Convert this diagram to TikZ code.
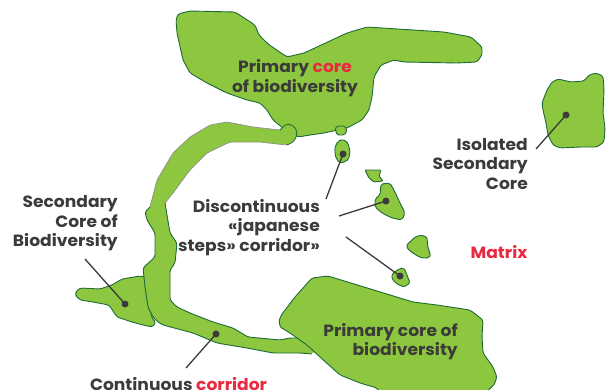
\documentclass[tikz,border=0pt]{standalone}
\usepackage{fontspec}
\setmainfont{Poppins}[FakeStretch=1.05]
\definecolor{land}{HTML}{8DC63F}
\definecolor{edge}{HTML}{1F6B35}
\definecolor{grayedge}{HTML}{8F8F8F}
\definecolor{txt}{HTML}{3B3B3A}
\definecolor{hot}{HTML}{E8293F}
\begin{document}
\begin{tikzpicture}[x=1pt,y=-1pt,
  landshape/.style={fill=land,draw=edge,line width=0.9pt,rounded corners=2.5pt,line join=round},
  isle/.style={fill=land,draw=edge,line width=0.9pt,line join=round},
  lbl/.style={font=\fontsize{16.3}{19.5}\selectfont\bfseries,text=txt,inner sep=0pt},
  dot/.style={circle,fill=txt,inner sep=0pt,minimum size=7pt},
  leader/.style={draw=txt,line width=1.3pt}]
\useasboundingbox (0,0) rectangle (608,389);
\clip (0,0) rectangle (608,389);

% secondary core (left)
\path[landshape] (77,290) -- (81,288) -- (100,289) -- (112,285) -- (122,279) -- (140,276) -- (146,277) -- (148,300) -- (152,318) -- (156,323) -- (152,327) -- (143,325) -- (132,322) -- (117,317) -- (109,305) -- (93,302) -- (80,300) -- (75,295) -- cycle;

% top primary core
\path[landshape] (178,14) -- (190,11) -- (235,12) -- (255,25) -- (259,35) -- (268,44) -- (287,57) -- (304,53) -- (317,47) -- (347,33) -- (367,27) -- (444,32) -- (471,37) -- (482,47) -- (482,55) -- (477,62) -- (457,63) -- (404,62) -- (394,60) -- (381,65) -- (374,77) -- (372,97) -- (369,110) -- (362,120) -- (347,128) -- (324,133) -- (310,135) -- (298,137) -- (284,129) -- (273,120) -- (267,110) -- (260,103) -- (247,100) -- (227,93) -- (207,83) -- (190,73) -- (183,60) -- (177,33) -- (176,20) -- cycle;

% continuous corridor
\path[fill=land,rounded corners=2.5pt] (280,130) -- (253,127) -- (227,122) -- (210,125) -- (190,137) -- (173,153) -- (157,180) -- (150,207) -- (145,212) -- (147,220) -- (155,233) -- (155,257) -- (143,268) -- (145,287) -- (148,307) -- (153,317) -- (158,322) -- (163,325) -- (193,333) -- (217,343) -- (247,348) -- (273,353) -- (300,353) -- (312,354) -- (316,350) -- (300,338) -- (290,338) -- (280,340) -- (248,337) -- (233,328) -- (213,322) -- (190,313) -- (177,307) -- (170,300) -- (170,270) -- (175,263) -- (177,243) -- (170,233) -- (165,203) -- (173,193) -- (190,170) -- (207,153) -- (230,142) -- (260,142) -- (286,145) -- (290,144) -- (295,140) -- (297,134) -- (296,129) -- (292,125) -- (287,124) -- (283,127) -- cycle;
\draw[grayedge,line width=0.7pt,rounded corners=2.5pt] (280,130) -- (253,127) -- (227,122) -- (210,125) -- (190,137) -- (173,153) -- (157,180) -- (150,207);
\draw[grayedge,line width=0.7pt,rounded corners=2.5pt] (165,203) -- (173,193) -- (190,170) -- (207,153) -- (230,142) -- (260,142) -- (286,145);
\draw[edge,line width=0.9pt,rounded corners=2.5pt,line join=round] (150,207) -- (145,212) -- (147,220) -- (155,233) -- (155,257) -- (143,268) -- (145,287) -- (148,307) -- (153,317) -- (158,322) -- (163,325) -- (193,333) -- (217,343) -- (247,348) -- (273,353) -- (300,353) -- (312,354);
\draw[edge,line width=0.9pt,rounded corners=2.5pt,line join=round] (300,338) -- (290,338) -- (280,340) -- (248,337) -- (233,328) -- (213,322) -- (190,313) -- (177,307) -- (170,300) -- (170,270) -- (175,263) -- (177,243) -- (170,233) -- (165,203);
\draw[edge,line width=0.8pt,rounded corners=1.5pt,line join=round] (286,145) -- (290,144) -- (295,140) -- (297,134) -- (296,129) -- (292,125) -- (287,124) -- (283,127) -- (280,130);

% bottom primary core
\path[landshape] (279,320) -- (282,314) -- (295,297) -- (312,278) -- (328,276) -- (413,302) -- (437,305) -- (470,310) -- (483,320) -- (482,337) -- (483,353) -- (493,367) -- (497,377) -- (494,385) -- (485,393) -- (380,393) -- (377,388) -- (360,383) -- (340,375) -- (320,357) -- (307,345) -- (290,333) -- (280,327) -- cycle;

% isolated secondary core
\path[landshape] (542,103) -- (547,90) -- (552,82) -- (558,79) -- (571,82) -- (584,81) -- (589,75) -- (596,73) -- (603,76) -- (604,90) -- (603,113) -- (605,128) -- (604,142) -- (597,147) -- (580,147) -- (560,148) -- (553,145) -- (548,135) -- (546,123) -- (543,110) -- cycle;

% japanese steps islands
\path[isle,rounded corners=1.5pt] (335,128) -- (338,126) -- (345,126) -- (347,131) -- (344,135) -- (337,135) -- cycle;
\path[isle] plot[smooth cycle,tension=0.8] coordinates {(337,143) (344,140) (349,147) (349,157) (344,162) (338,161) (335,152)};
\path[isle,rounded corners=1pt] (365,170) -- (381,170) -- (379,176) -- (383,181) -- (374,182) -- (369,178) -- cycle;
\path[isle,rounded corners=2pt] (381,184) -- (390,183) -- (395,192) -- (400,203) -- (405,213) -- (402,220) -- (392,218) -- (382,213) -- (375,207) -- (375,199) -- (380,195) -- cycle;
\path[isle] plot[smooth cycle,tension=0.7] coordinates {(407,247) (412,240) (418,236) (426,237) (428,247) (430,256) (424,258) (416,255)};
\path[isle,rounded corners=1.5pt] (392,274) -- (399,269) -- (404,268) -- (407,275) -- (410,283) -- (404,287) -- (397,284) -- (392,279) -- cycle;

% labels
\node[lbl,align=center] (topcore) at (295,78) {Primary \textcolor{hot}{core}\\of biodiversity};
\node[lbl,align=right,anchor=east] (isolated) at (528,164) {Isolated\\Secondary\\Core};
\node[lbl,align=right,anchor=east] (secondary) at (118,223.5) {Secondary\\Core of\\Biodiversity};
\node[lbl,align=right,anchor=east] (steps) at (320,227.5) {Discontinuous\\«japanese\\steps» corridor»};
\node[lbl,text=hot] (matrix) at (499,252.5) {Matrix};
\node[lbl,align=right,anchor=east] (botcore) at (458,341.5) {Primary core of\\biodiversity};
\node[lbl,anchor=base] (corridor) at (178.5,390) {Continuous \textcolor{hot}{corridor}};

% dots and leaders
\node[dot] (d1) at (566,115) {};
\coordinate (e1) at (536,149);
\draw[leader] (d1.center) -- (e1);
\node[dot] (d2) at (343,154) {};
\coordinate (e2) at (326,199);
\draw[leader] (d2.center) -- (e2);
\node[dot] (d3) at (386,201) {};
\coordinate (e3) at (339,216);
\draw[leader] (d3.center) -- (e3);
\node[dot] (d4) at (400,276) {};
\coordinate (e4) at (346,237);
\draw[leader] (d4.center) -- (e4);
\node[dot] (d5) at (125,304) {};
\coordinate (e5) at (85,259);
\draw[leader] (d5.center) -- (e5);
\node[dot] (d6) at (216,334) {};
\coordinate (e6) at (186,368);
\draw[leader] (d6.center) -- (e6);
\end{tikzpicture}
\end{document}
